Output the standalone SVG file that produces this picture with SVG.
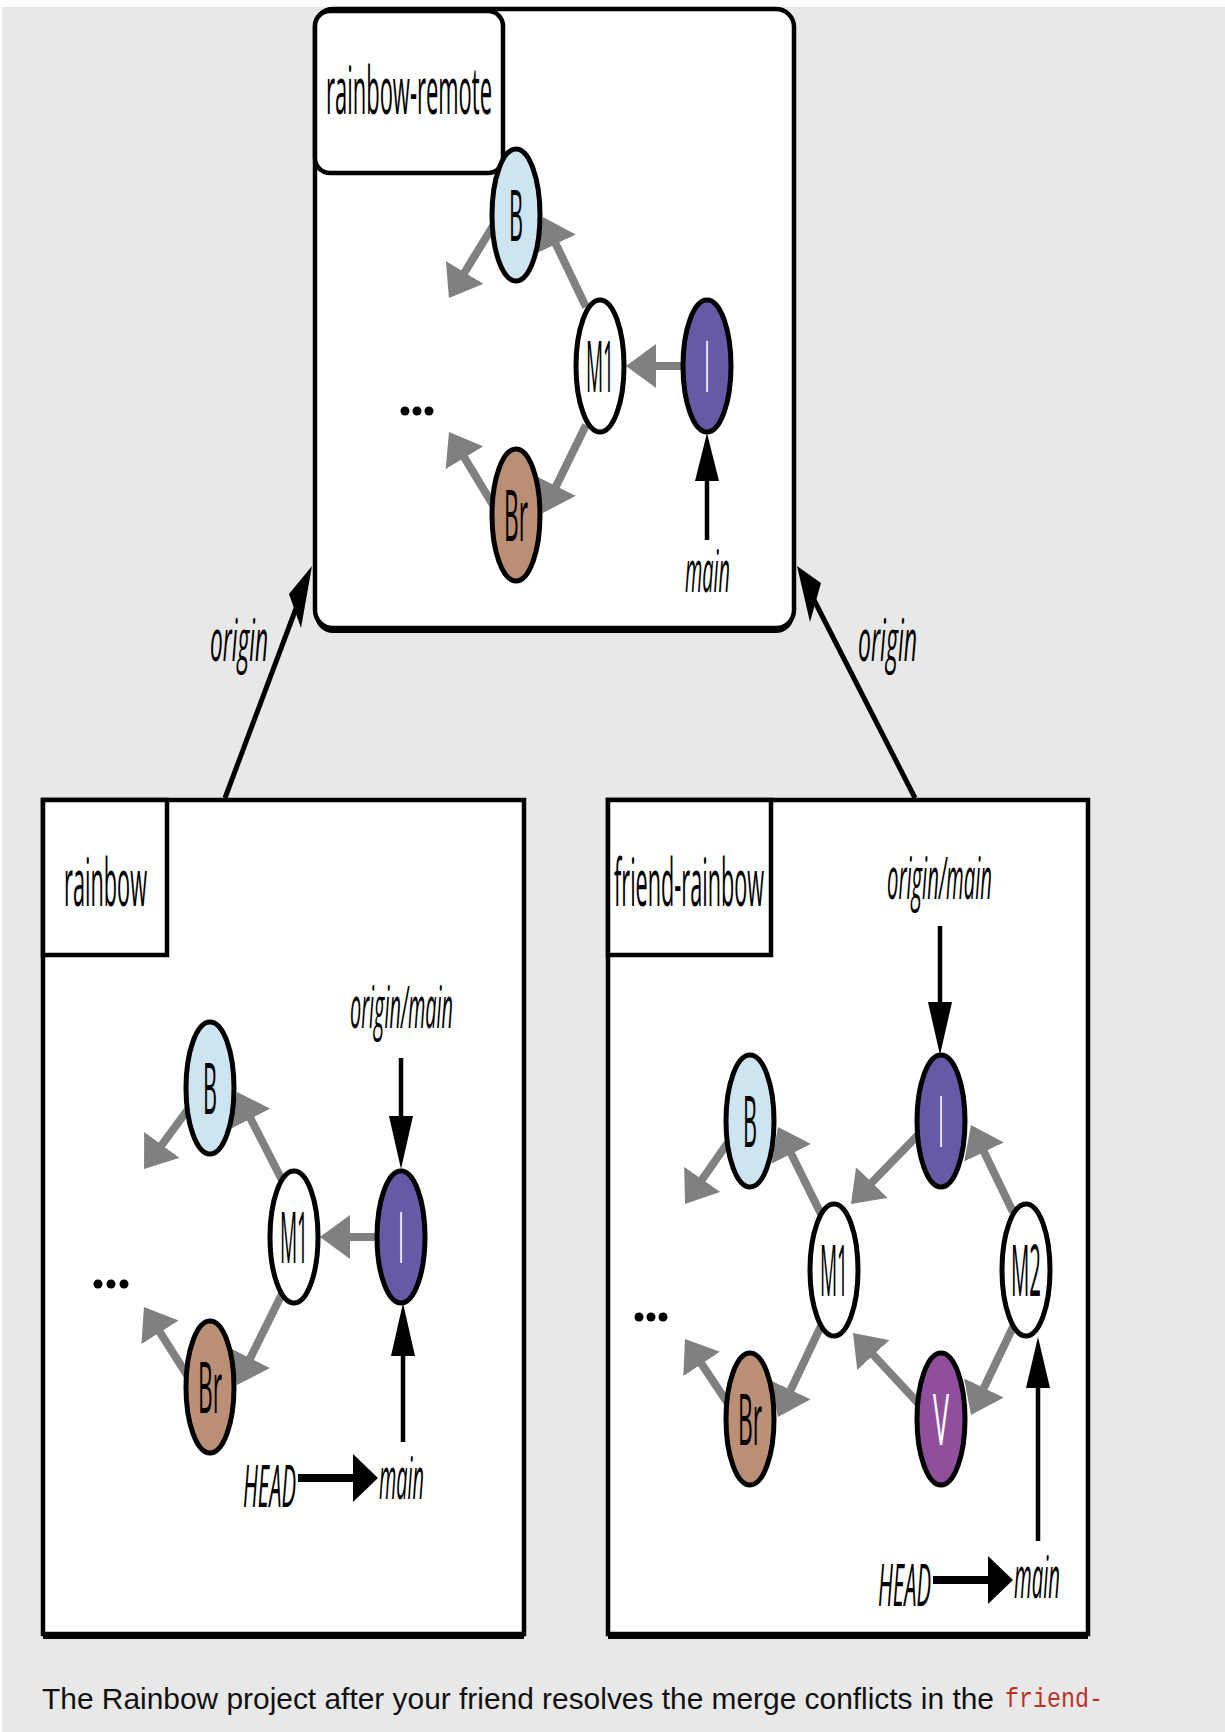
<svg xmlns="http://www.w3.org/2000/svg" width="1225" height="1732" viewBox="0 0 1225 1732">
<defs>
<style>
.frame{fill:#fff;stroke:#000;stroke-width:4.5}
.shadow{fill:#000}
.tab{fill:#fff;stroke:#000;stroke-width:4.5}
.title{font-family:"Open Sans","Liberation Sans",sans-serif;font-size:66px;fill:#000}
.node{stroke:#000;stroke-width:5}
.nl{font-family:"Open Sans","Liberation Sans",sans-serif;font-size:72px;text-anchor:middle}
.ref{font-family:"Open Sans","Liberation Sans",sans-serif;font-style:italic;font-size:58px;fill:#000}
.gray{stroke:#808080;stroke-width:8;fill:none;marker-end:url(#gh)}
.blk{stroke:#000;stroke-width:4.5;fill:none}
.bh{fill:#000}
.dot{fill:#000}
</style>
<marker id="gh" viewBox="0 0 30 44" refX="6" refY="22" markerWidth="30" markerHeight="44" markerUnits="userSpaceOnUse" orient="auto">
<path d="M0,0 L30,22 L0,44 z" fill="#808080"/>
</marker>
</defs>
<rect x="0" y="0" width="1225" height="1732" fill="#fff"/>
<rect x="2" y="7" width="1223" height="1725" fill="#e8e8e8"/>

<g id="box-rainbow-remote">
<rect class="shadow" x="315" y="12" width="479" height="621" rx="18"/>
<rect class="frame" x="315" y="9" width="479" height="619" rx="18"/>
<rect class="tab" x="315" y="11" width="188" height="162" rx="15"/>
<text class="title" x="326" y="114" textLength="166" lengthAdjust="spacingAndGlyphs">rainbow-remote</text>
<circle class="dot" cx="405" cy="411" r="4.5"/><circle class="dot" cx="417" cy="411" r="4.5"/><circle class="dot" cx="429" cy="411" r="4.5"/>
</g>

<g id="box-rainbow">
<rect class="shadow" x="43" y="803" width="481" height="836"/>
<rect class="frame" x="43" y="800" width="481" height="834"/>
<rect class="tab" x="43" y="800" width="124" height="155"/>
<text class="title" x="64" y="906" textLength="83" lengthAdjust="spacingAndGlyphs">rainbow</text>
<circle class="dot" cx="98" cy="1284" r="4.5"/><circle class="dot" cx="111" cy="1284" r="4.5"/><circle class="dot" cx="124" cy="1284" r="4.5"/>
</g>

<g id="box-friend-rainbow">
<rect class="shadow" x="608" y="803" width="480" height="836"/>
<rect class="frame" x="608" y="800" width="480" height="834"/>
<rect class="tab" x="608" y="800" width="163" height="155"/>
<text class="title" x="614" y="906" textLength="150" lengthAdjust="spacingAndGlyphs">friend-rainbow</text>
<circle class="dot" cx="639" cy="1317" r="4.5"/><circle class="dot" cx="651" cy="1317" r="4.5"/><circle class="dot" cx="663" cy="1317" r="4.5"/>
</g>

<g id="connectors">
<!-- remote -->
<line class="gray" x1="493" y1="226" x2="461.5" y2="277.5"/>
<line class="gray" x1="586" y1="307" x2="553.3" y2="238.7"/>
<line class="gray" x1="683" y1="366" x2="650" y2="366"/>
<line class="gray" x1="586" y1="425" x2="553.5" y2="491.4"/>
<line class="gray" x1="493" y1="505" x2="461.4" y2="452.6"/>
<line class="blk" x1="707" y1="540" x2="707" y2="475"/>
<polygon class="bh" points="707,433 695,481 719,481"/>
<!-- rainbow -->
<line class="gray" x1="189" y1="1108" x2="158.3" y2="1149.7"/>
<line class="gray" x1="282" y1="1180" x2="247.9" y2="1113.4"/>
<line class="gray" x1="377" y1="1237" x2="344" y2="1237"/>
<line class="gray" x1="282" y1="1294" x2="247.6" y2="1363.5"/>
<line class="gray" x1="189" y1="1378" x2="156.8" y2="1327.3"/>
<line class="blk" x1="401" y1="1058" x2="401" y2="1125"/>
<polygon class="bh" points="401,1169 389,1116 413,1116"/>
<line class="blk" x1="403" y1="1442" x2="403" y2="1350"/>
<polygon class="bh" points="403,1303 391,1356 415,1356"/>
<line x1="298" y1="1478" x2="356" y2="1478" stroke="#000" stroke-width="8"/>
<polygon class="bh" points="378,1478 353,1454 353,1502"/>
<!-- friend -->
<line class="gray" x1="729" y1="1141" x2="698.8" y2="1184.3"/>
<line class="gray" x1="821" y1="1214" x2="788.6" y2="1148.5"/>
<line class="gray" x1="918" y1="1135" x2="867.7" y2="1186.8"/>
<line class="gray" x1="1013" y1="1212" x2="981.4" y2="1146.6"/>
<line class="gray" x1="821" y1="1326" x2="788.2" y2="1395.3"/>
<line class="gray" x1="729" y1="1405" x2="698.3" y2="1359"/>
<line class="gray" x1="918" y1="1403" x2="869.3" y2="1350.6"/>
<line class="gray" x1="1013" y1="1327" x2="981.3" y2="1393.3"/>
<line class="blk" x1="940" y1="926" x2="940" y2="1010"/>
<polygon class="bh" points="940,1055 928,1002 952,1002"/>
<line class="blk" x1="1038" y1="1541" x2="1038" y2="1385"/>
<polygon class="bh" points="1038,1337 1026,1388 1050,1388"/>
<line x1="933" y1="1580" x2="991" y2="1580" stroke="#000" stroke-width="8"/>
<polygon class="bh" points="1013,1580 988,1556 988,1604"/>
<!-- origin -->
<line x1="225" y1="798" x2="298" y2="603" stroke="#000" stroke-width="5"/>
<polygon class="bh" points="312,566 289,594 301,628"/>
<line x1="915" y1="798" x2="813" y2="598" stroke="#000" stroke-width="5"/>
<polygon class="bh" points="797,566 821,583 810,622"/>
</g>

<g id="node-remote-B"><ellipse class="node" cx="516" cy="215" rx="24" ry="66" fill="#cde4f1"/><text class="nl" x="516" y="241" textLength="14" lengthAdjust="spacingAndGlyphs">B</text></g>
<g id="node-remote-M1"><ellipse class="node" cx="600" cy="366" rx="24" ry="66" fill="#fff"/><text class="nl" x="600" y="392" textLength="28" lengthAdjust="spacingAndGlyphs">M1</text></g>
<g id="node-remote-I"><ellipse class="node" cx="707" cy="366" rx="24" ry="66" fill="#6659a5"/><text class="nl" x="707" y="392" fill="#fff" textLength="5" lengthAdjust="spacingAndGlyphs">I</text></g>
<g id="node-remote-Br"><ellipse class="node" cx="516" cy="515" rx="24" ry="66" fill="#bb8f76"/><text class="nl" x="516" y="541" textLength="24" lengthAdjust="spacingAndGlyphs">Br</text></g>
<g id="ref-remote-main"><text class="ref" x="685" y="592" textLength="45" lengthAdjust="spacingAndGlyphs">main</text></g>
<g id="ref-origin-left"><text class="ref" x="210" y="661" textLength="58" lengthAdjust="spacingAndGlyphs">origin</text></g>
<g id="ref-origin-right"><text class="ref" x="858" y="661" textLength="59" lengthAdjust="spacingAndGlyphs">origin</text></g>

<g id="node-rainbow-B"><ellipse class="node" cx="210" cy="1088" rx="24" ry="66" fill="#cde4f1"/><text class="nl" x="210" y="1114" textLength="14" lengthAdjust="spacingAndGlyphs">B</text></g>
<g id="node-rainbow-M1"><ellipse class="node" cx="294" cy="1237" rx="24" ry="66" fill="#fff"/><text class="nl" x="294" y="1263" textLength="28" lengthAdjust="spacingAndGlyphs">M1</text></g>
<g id="node-rainbow-I"><ellipse class="node" cx="401" cy="1237" rx="24" ry="66" fill="#6659a5"/><text class="nl" x="401" y="1263" fill="#fff" textLength="5" lengthAdjust="spacingAndGlyphs">I</text></g>
<g id="node-rainbow-Br"><ellipse class="node" cx="210" cy="1387" rx="24" ry="66" fill="#bb8f76"/><text class="nl" x="210" y="1413" textLength="24" lengthAdjust="spacingAndGlyphs">Br</text></g>
<g id="ref-rainbow-origin-main"><text class="ref" x="350" y="1028" font-size="54" textLength="103" lengthAdjust="spacingAndGlyphs">origin/main</text></g>
<g id="ref-rainbow-HEAD"><text class="ref" x="243" y="1507" font-size="64" textLength="53" lengthAdjust="spacingAndGlyphs">HEAD</text></g>
<g id="ref-rainbow-main"><text class="ref" x="379" y="1499" textLength="45" lengthAdjust="spacingAndGlyphs">main</text></g>

<g id="node-friend-B"><ellipse class="node" cx="750" cy="1121" rx="24" ry="66" fill="#cde4f1"/><text class="nl" x="750" y="1147" textLength="14" lengthAdjust="spacingAndGlyphs">B</text></g>
<g id="node-friend-I"><ellipse class="node" cx="941" cy="1121" rx="24" ry="66" fill="#6659a5"/><text class="nl" x="941" y="1147" fill="#fff" textLength="5" lengthAdjust="spacingAndGlyphs">I</text></g>
<g id="node-friend-M1"><ellipse class="node" cx="834" cy="1270" rx="24" ry="66" fill="#fff"/><text class="nl" x="834" y="1296" textLength="28" lengthAdjust="spacingAndGlyphs">M1</text></g>
<g id="node-friend-M2"><ellipse class="node" cx="1026" cy="1270" rx="24" ry="66" fill="#fff"/><text class="nl" x="1026" y="1296" textLength="30" lengthAdjust="spacingAndGlyphs">M2</text></g>
<g id="node-friend-Br"><ellipse class="node" cx="750" cy="1419" rx="24" ry="66" fill="#bb8f76"/><text class="nl" x="750" y="1445" textLength="24" lengthAdjust="spacingAndGlyphs">Br</text></g>
<g id="node-friend-V"><ellipse class="node" cx="941" cy="1419" rx="24" ry="66" fill="#8f4f9d"/><text class="nl" x="941" y="1445" fill="#fff" textLength="16" lengthAdjust="spacingAndGlyphs">V</text></g>
<g id="ref-friend-origin-main"><text class="ref" x="887" y="899" font-size="54" textLength="105" lengthAdjust="spacingAndGlyphs">origin/main</text></g>
<g id="ref-friend-HEAD"><text class="ref" x="878" y="1606" font-size="64" textLength="53" lengthAdjust="spacingAndGlyphs">HEAD</text></g>
<g id="ref-friend-main"><text class="ref" x="1014" y="1598" textLength="46" lengthAdjust="spacingAndGlyphs">main</text></g>

<g id="caption">
<text x="42" y="1709" font-family="Liberation Sans, Arial, sans-serif" font-size="30" fill="#111" textLength="952" lengthAdjust="spacingAndGlyphs">The Rainbow project after your friend resolves the merge conflicts in the</text>
<text x="1005" y="1707" font-family="Liberation Mono, monospace" font-size="27" fill="#b8342b" textLength="98" lengthAdjust="spacingAndGlyphs">friend-</text>
</g>
</svg>
